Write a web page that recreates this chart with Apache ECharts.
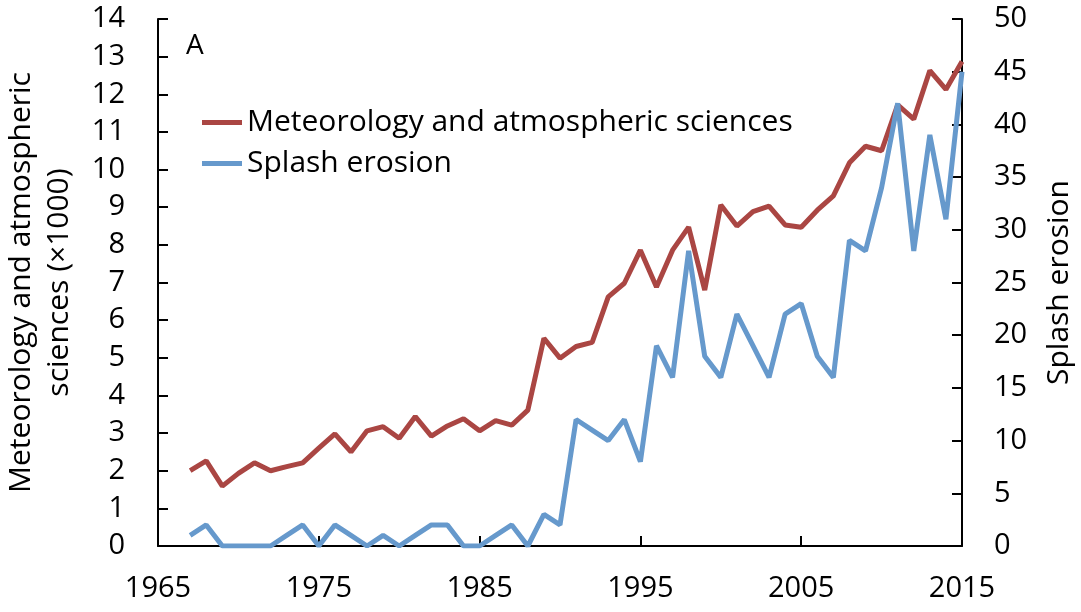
<!DOCTYPE html>
<html><head><meta charset="utf-8">
<script src="https://cdn.jsdelivr.net/npm/echarts@6/dist/echarts.min.js"></script>
<style>html,body{margin:0;padding:0;background:#fff}#c{width:1081px;height:612px}</style>
</head><body><div id="c"></div>
<script>
var years = [1967,1968,1969,1970,1971,1972,1973,1974,1975,1976,1977,1978,1979,1980,1981,1982,1983,1984,1985,1986,1987,1988,1989,1990,1991,1992,1993,1994,1995,1996,1997,1998,1999,2000,2001,2002,2003,2004,2005,2006,2007,2008,2009,2010,2011,2012,2013,2014,2015];
var meteorology = [2.0,2.26,1.59,1.93,2.21,2.0,2.11,2.21,2.6,2.98,2.5,3.06,3.17,2.86,3.44,2.92,3.19,3.38,3.06,3.33,3.21,3.61,5.52,4.99,5.3,5.41,6.62,6.98,7.86,6.88,7.86,8.47,6.8,9.06,8.5,8.88,9.03,8.53,8.47,8.92,9.3,10.18,10.62,10.5,11.72,11.34,12.63,12.13,12.87];
var splash = [1,2,0,0,0,0,1,2,0,2,1,0,1,0,1,2,2,0,0,1,2,0,3,2,12,11,10,12,8,19,16,28,18,16,22,19,16,22,23,18,16,29,28,34,42,28,39,31,45];
var seriesNames = ['Meteorology and atmospheric sciences','Splash erosion'];
var leftAxisName = 'Meteorology and atmospheric\nsciences (×1000)';
var rightAxisName = 'Splash erosion';
var panelLabel = 'A';

function pairs(xs, ys){ return xs.map(function(x,i){ return [x, ys[i]]; }); }
var FONT = 'Open Sans';
var chart = echarts.init(document.getElementById('c'), null, {renderer:'canvas'});
var axisLine = {show:true, lineStyle:{color:'#000', width:2}};
var tick = {show:true, inside:true, length:10, lineStyle:{color:'#000', width:2}};
chart.setOption({
  animation:false,
  textStyle:{fontFamily:FONT},
  grid:{left:158, right:119, top:19, bottom:66, containLabel:false, outerBoundsMode:'none'},
  legend:{
    show:true, orient:'vertical', left:197, top:100,
    itemWidth:40, itemHeight:5, itemGap:6, icon:'rect',
    textStyle:{fontFamily:FONT, fontSize:30, color:'#000', lineHeight:35},
    data:seriesNames
  },
  graphic:[{type:'text', left:186, top:32, style:{text:panelLabel, font:'28px "Open Sans"', fill:'#000'}}],
  xAxis:{type:'value', min:1965, max:2015, interval:10,
    axisLine:axisLine, axisTick:tick, splitLine:{show:false},
    axisLabel:{fontFamily:FONT, fontSize:29, color:'#000', margin:28, formatter:function(v){return String(v);}}},
  yAxis:[
    {type:'value', min:0, max:14, interval:1, position:'left',
      axisLine:axisLine, axisTick:tick, splitLine:{show:false},
      axisLabel:{fontFamily:FONT, fontSize:29, color:'#000', margin:33},
      name:leftAxisName, nameLocation:'middle', nameRotate:90, nameGap:80,
      nameTextStyle:{fontFamily:FONT, fontSize:30, color:'#000', lineHeight:38, align:'center'}},
    {type:'value', min:0, max:50, interval:5, position:'right',
      axisLine:axisLine, axisTick:tick, splitLine:{show:false},
      axisLabel:{fontFamily:FONT, fontSize:29, color:'#000', margin:32},
      name:rightAxisName, nameLocation:'middle', nameRotate:90, nameGap:82,
      nameTextStyle:{fontFamily:FONT, fontSize:30, color:'#000'}}
  ],
  series:[
    {name:seriesNames[0], type:'line', yAxisIndex:0, data:pairs(years, meteorology),
      symbol:'none', lineStyle:{color:'#AA4643', width:5}, itemStyle:{color:'#AA4643'}},
    {name:seriesNames[1], type:'line', yAxisIndex:1, data:pairs(years, splash),
      symbol:'none', lineStyle:{color:'#6699CC', width:5}, itemStyle:{color:'#6699CC'}}
  ]
});
</script></body></html>
